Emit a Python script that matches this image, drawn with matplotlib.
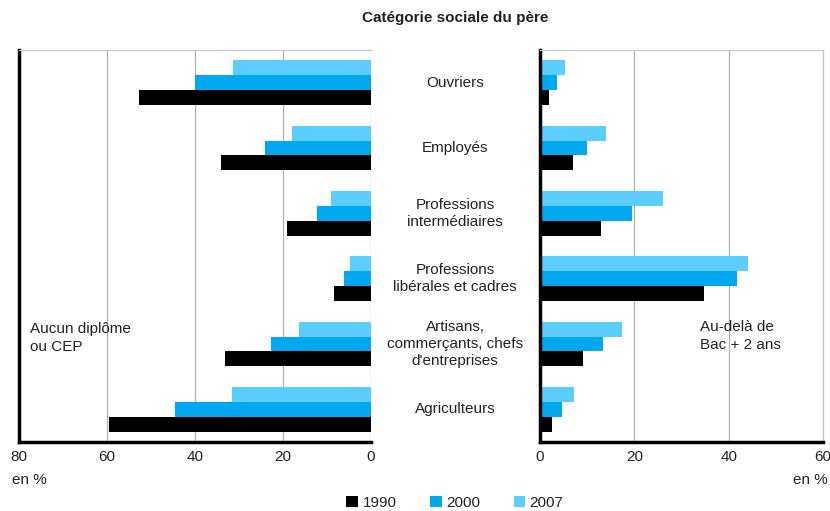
import matplotlib
matplotlib.use("Agg")
import matplotlib.pyplot as plt
import matplotlib.transforms as mtransforms
import numpy as np
from matplotlib import font_manager as fm

names = {f.name for f in fm.fontManager.ttflist}
FAM = ["Liberation Sans Narrow", "Liberation Sans", "DejaVu Sans"]
FAM = [f for f in FAM if f in names] or ["DejaVu Sans"]
plt.rcParams['font.family'] = FAM

categories = ["Ouvriers", "Employés", "Professions\nintermédiaires",
              "Professions\nlibérales et cadres",
              "Artisans,\ncommerçants, chefs\nd'entreprises", "Agriculteurs"]
years = ["1990", "2000", "2007"]
colors = ["#000000", "#00A8F0", "#5BCEFF"]

# Aucun diplôme ou CEP (%)
left_1990 = [52.7, 34.0, 19.2, 8.5, 33.2, 59.6]
left_2000 = [40.0, 24.1, 12.3, 6.1, 22.8, 44.5]
left_2007 = [31.4, 18.0, 9.1, 4.8, 16.4, 31.7]
# Au-delà de Bac + 2 ans (%)
right_1990 = [2.0, 6.9, 12.9, 34.7, 9.2, 2.5]
right_2000 = [3.5, 9.9, 19.6, 41.8, 13.3, 4.7]
right_2007 = [5.3, 14.0, 26.1, 44.0, 17.3, 7.2]

W, H = 830, 511
fig = plt.figure(figsize=(W/100, H/100), dpi=100)
axL = fig.add_axes([19/W, (H-442)/H, 352/W, 392/H])
axR = fig.add_axes([540/W, (H-442)/H, 283/W, 392/H])

y = np.arange(len(categories))
h = 0.227
handles = []
for ax, series in ((axL, [left_1990, left_2000, left_2007]),
                   (axR, [right_1990, right_2000, right_2007])):
    for k, (vals, c, yr) in enumerate(zip(series, colors, years)):
        b = ax.barh(y + (1 - k) * h, vals, height=h, color=c, label=yr, zorder=2)
        if ax is axL:
            handles.append(b)
    ax.set_ylim(5.5, -0.5)
    ax.set_yticks([])
    ax.grid(axis='x', color='#b0b0b0', linewidth=0.9, zorder=0)
    ax.set_axisbelow(True)
    ax.tick_params(axis='x', length=0, labelsize=11, colors='#222222', pad=6)
    for s in ax.spines.values():
        s.set_color('#c8c8c8')
        s.set_linewidth(0.9)
        s.set_zorder(4)

axL.set_xlim(80, 0)
axL.set_xticks([80, 60, 40, 20, 0])
axL.spines['left'].set_color('black'); axL.spines['left'].set_linewidth(2.5)
axL.spines['bottom'].set_color('black'); axL.spines['bottom'].set_linewidth(2.5)
axL.spines['right'].set_visible(False)

axR.set_xlim(0, 60)
axR.set_xticks([0, 20, 40, 60])
axR.spines['left'].set_color('black'); axR.spines['left'].set_linewidth(2.5)
axR.spines['bottom'].set_color('black'); axR.spines['bottom'].set_linewidth(2.5)

# Category labels in the middle
trans = mtransforms.blended_transform_factory(fig.transFigure, axL.transData)
for i, cat in enumerate(categories):
    fig.text(455/W, y[i], cat, transform=trans, ha='center', va='center',
             fontsize=11, color='#222222', linespacing=1.3)

fig.text(455/W, (H-18)/H, "Catégorie sociale du père", ha='center', va='center',
         fontsize=11, fontweight='bold', color='#222222')
fig.text(30/W, (H-338)/H, "Aucun diplôme\nou CEP", ha='left', va='center',
         fontsize=11, color='#222222', linespacing=1.3)
fig.text(700/W, (H-336)/H, "Au-delà de\nBac + 2 ans", ha='left', va='center',
         fontsize=11, color='#222222', linespacing=1.3)
fig.text(12/W, (H-480)/H, "en %", ha='left', va='center', fontsize=11, color='#222222')
fig.text(828/W, (H-480)/H, "en %", ha='right', va='center', fontsize=11, color='#222222')

fig.legend(handles=handles, labels=years, loc='center', bbox_to_anchor=(455/W, (H-503)/H),
           ncol=3, frameon=False, fontsize=11, handlelength=0.75, handleheight=0.75,
           handletextpad=0.3, columnspacing=2.2, labelcolor='#222222')

fig.savefig("out.png", dpi=100)
